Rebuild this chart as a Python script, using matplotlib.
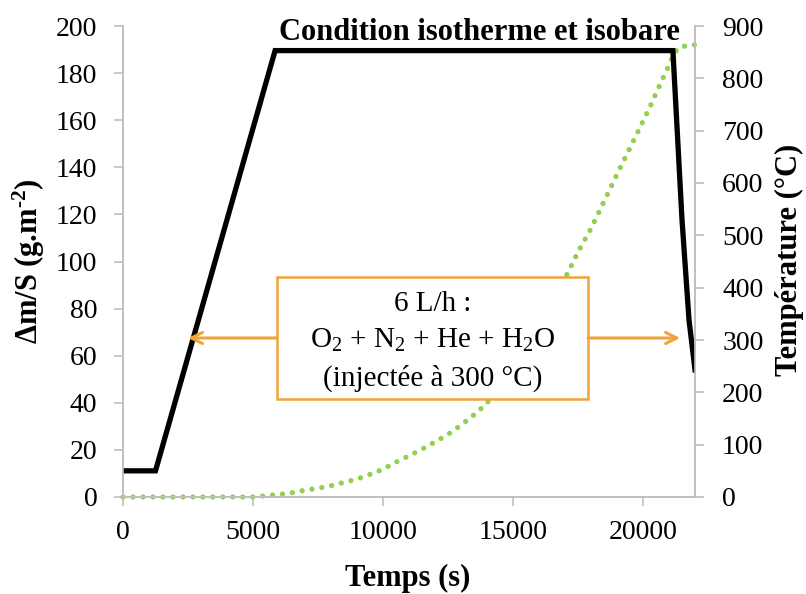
import matplotlib
matplotlib.use("Agg")
import matplotlib.pyplot as plt
from matplotlib.patches import Rectangle

plt.rcParams['font.family'] = ['Liberation Serif', 'DejaVu Serif']
plt.rcParams['mathtext.fontset'] = 'custom'
plt.rcParams['mathtext.rm'] = 'Liberation Serif'
plt.rcParams['mathtext.bf'] = 'Liberation Serif:bold'
plt.rcParams['mathtext.it'] = 'Liberation Serif:italic'

# ---- data ----
time_temp = [0, 1250, 5850, 21150, 21500, 21770, 22000]
temperature = [50, 50, 853, 853, 530, 338, 243]

time_mass = [0, 5000, 6000, 6500, 7000, 7500, 8000, 8600, 9000, 9600, 10000,
             10500, 11000, 11500, 12000, 12500, 13000, 13500, 14000, 17100,
             17500, 18000, 18500, 19000, 19400, 19950, 20300, 20650, 21000,
             21200, 21420, 22000]
mass_gain = [0, 0, 1.1, 1.8, 2.9, 3.7, 4.8, 6.5, 7.6, 10, 11.8,
             14.8, 17.5, 20.3, 23.4, 26.6, 30.5, 34.9, 39.8, 95,
             104, 114, 125.5, 137, 146, 158.4, 166.5, 175, 183.4,
             188.5, 191.2, 192]

x_ticks = [0, 5000, 10000, 15000, 20000]
left_ticks = list(range(0, 201, 20))
right_ticks = list(range(0, 901, 100))

title_text = "Condition isotherme et isobare"
x_label = "Temps (s)"
left_label = r"Δm/S (g.m$^{\mathbf{\text{-}2}}$)"
right_label = "Température (°C)"
box_lines = ["6 L/h :",
             r"O$_\mathrm{2}$ + N$_\mathrm{2}$ + He + H$_\mathrm{2}$O",
             "(injectée à 300 °C)"]

GREEN = '#92D050'
ORANGE = '#F0A33C'
GRAY = '#BFBFBF'

W, H = 806, 594
fig = plt.figure(figsize=(W / 100, H / 100), dpi=100)
L, R, T, B = 123, 695, 26, 497
ax1 = fig.add_axes([L / W, 1 - B / H, (R - L) / W, (B - T) / H])
ax2 = ax1.twinx()

ax1.plot(time_mass, mass_gain, color=GREEN, lw=3.8, clip_on=False,
         linestyle=(0, (0.01, 1.88)), dash_capstyle='round', solid_capstyle='round')
ax2.plot(time_temp, temperature, color='black', lw=3.8, solid_joinstyle='miter')

ax1.set_xlim(0, 22000)
ax1.set_ylim(0, 200)
ax2.set_ylim(0, 900)
ax1.set_xticks(x_ticks)
ax1.set_yticks(left_ticks)
ax2.set_yticks(right_ticks)

for ax in (ax1, ax2):
    for s in ax.spines.values():
        s.set_color(GRAY)
        s.set_linewidth(1.2)
    ax.spines['top'].set_visible(False)
    ax.tick_params(colors=GRAY, labelcolor='black', labelsize=20,
                   length=6.5, width=1.2, direction='out')
ax1.tick_params(axis='y', pad=12)
ax2.tick_params(axis='y', pad=13)
ax1.tick_params(axis='x', pad=10)

# annotation box
ax2.add_patch(Rectangle((0.2692, 0.2081), 0.8129 - 0.2692, 0.4671 - 0.2081,
                        transform=ax2.transAxes, facecolor='white',
                        edgecolor=ORANGE, lw=1.8, zorder=5))
for ty, txt in zip([0.410, 0.333, 0.253], box_lines):
    ax2.text(0.541, ty, txt, transform=ax2.transAxes, ha='center', va='center',
             fontsize=21, zorder=6)
ax2.annotate('', xy=(0.1136, 0.3376), xytext=(0.2692, 0.3376),
             xycoords='axes fraction', textcoords='axes fraction',
             arrowprops=dict(arrowstyle='->', color=ORANGE, lw=2.2,
                             mutation_scale=20, shrinkA=0, shrinkB=0), zorder=5)
ax2.annotate('', xy=(0.974, 0.3376), xytext=(0.8129, 0.3376),
             xycoords='axes fraction', textcoords='axes fraction',
             arrowprops=dict(arrowstyle='->', color=ORANGE, lw=2.2,
                             mutation_scale=20, shrinkA=0, shrinkB=0), zorder=5)

fig.text(479.5 / W, 1 - 33 / H, title_text, ha='center', va='center',
         fontsize=22, fontweight='bold')
fig.text(408 / W, 1 - 578 / H, x_label, ha='center', va='center',
         fontsize=22, fontweight='bold')
fig.text(29 / W, 1 - 261 / H, left_label, ha='center', va='center',
         fontsize=22, fontweight='bold', rotation=90)
fig.text(789 / W, 1 - 260 / H, right_label, ha='center', va='center',
         fontsize=22, fontweight='bold', rotation=90)

fig.savefig('out.png', dpi=100)
